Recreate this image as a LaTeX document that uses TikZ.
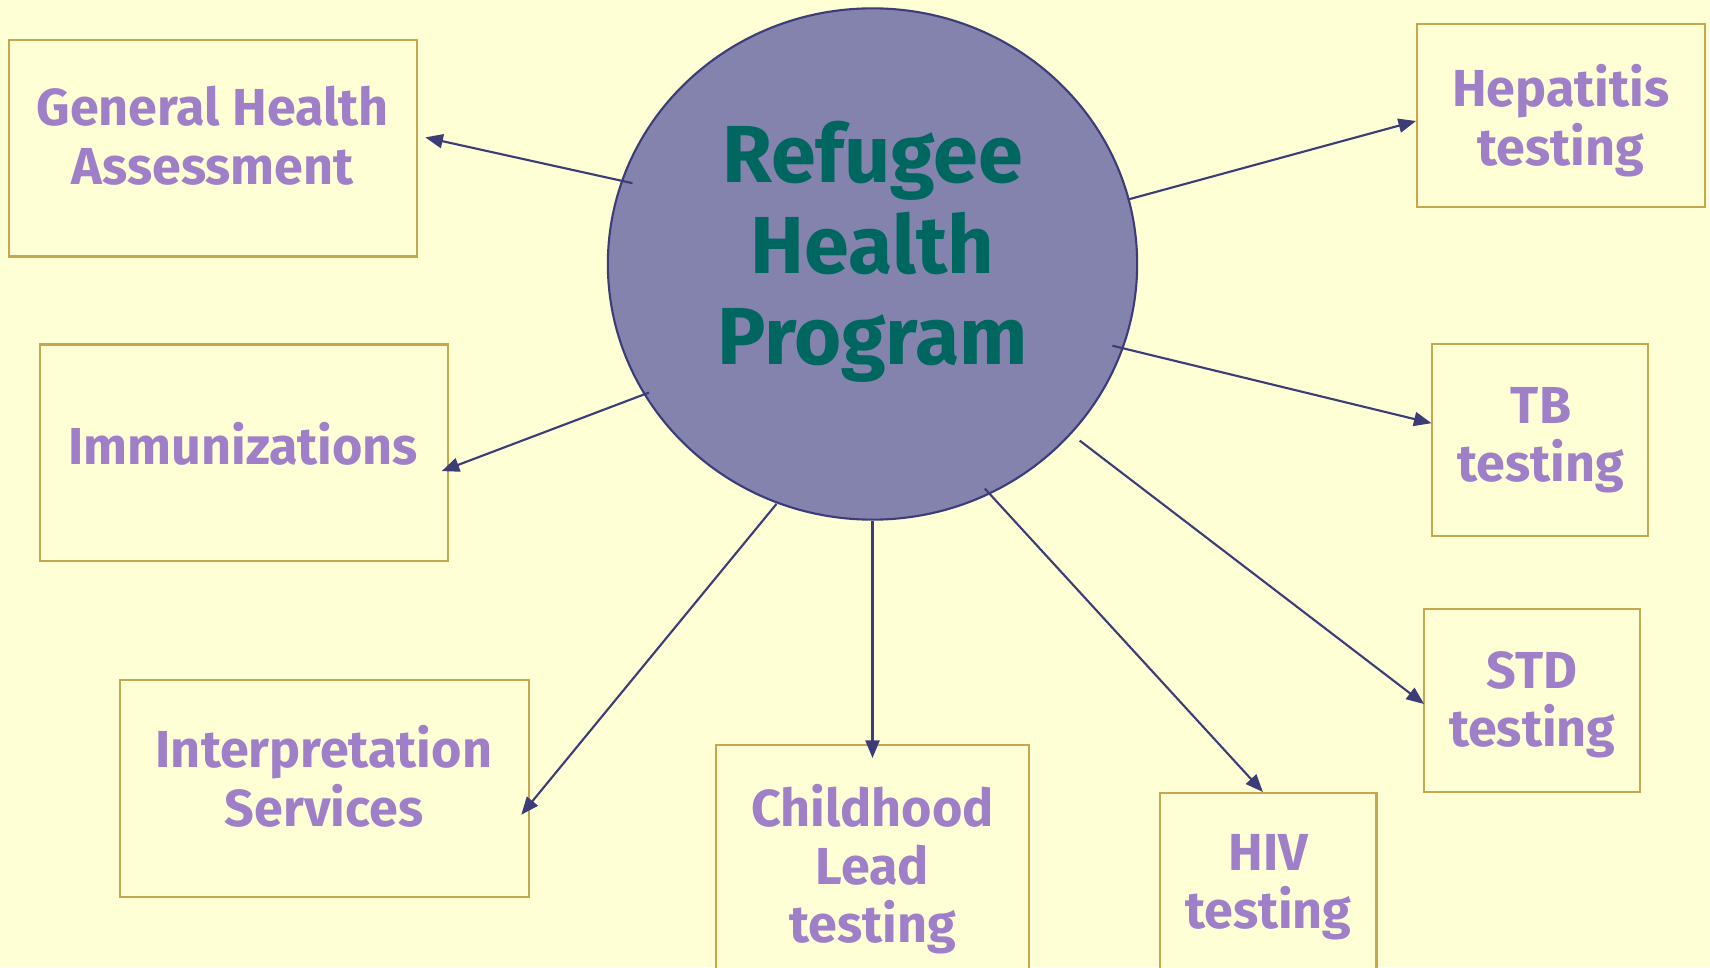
\documentclass[tikz,border=0pt]{standalone}
\usepackage{fontspec}
\setmainfont{Fira Sans}
\usetikzlibrary{arrows.meta,shapes.geometric}
\definecolor{bg}{HTML}{FFFFD5}
\definecolor{boxline}{HTML}{C9A54E}
\definecolor{lbl}{HTML}{9F80C8}
\definecolor{hubfill}{HTML}{8383AD}
\definecolor{hubline}{HTML}{3C3C78}
\definecolor{hubtext}{HTML}{006660}
\begin{document}
\begin{tikzpicture}[x=0.01cm,y=-0.01cm,
  box/.style={draw=boxline,line width=0.6pt,fill=bg,rectangle,inner sep=0pt},
  lab/.style={text=lbl,font=\fontsize{14.8}{16.6}\selectfont\bfseries,align=center,inner sep=0pt},
  conn/.style={draw=hubline,line width=0.6pt,-{Triangle[length=5pt,width=4pt]}}]
\fill[bg] (0,0) rectangle (1710,967);
\useasboundingbox (0,0) rectangle (1710,967);
\clip (0,0) rectangle (1710,967);
% hub
\node[ellipse,draw=hubline,fill=hubfill,line width=0.6pt,inner sep=0pt,
  minimum width=5.29cm,minimum height=5.11cm] (hub) at (872.5,264) {};
\node[text=hubtext,font=\fontsize{23}{25.8}\selectfont\bfseries,align=center] (hubt) at (872.5,252) {Refugee\\Health\\Program};
% boxes
\node[box,minimum width=4.08cm,minimum height=2.16cm] (gha) at (212.7,148.4) {};
\node[box,minimum width=4.08cm,minimum height=2.16cm] (imm) at (244.3,452.6) {};
\node[box,minimum width=4.09cm,minimum height=2.16cm] (int) at (324.5,788.5) {};
\node[box,minimum width=3.12cm,minimum height=3.00cm] (chl) at (872.5,894.9) {};
\node[box,minimum width=2.16cm,minimum height=3.00cm] (hiv) at (1268.4,942.9) {};
\node[box,minimum width=2.16cm,minimum height=1.83cm] (std) at (1532.3,700.2) {};
\node[box,minimum width=2.16cm,minimum height=1.91cm] (tb) at (1540,440) {};
\node[box,minimum width=2.88cm,minimum height=1.83cm] (hep) at (1560.7,115.6) {};
% labels
\node[lab] (ghat) at (212.7,135.8) {General Health\\Assessment};
\node[lab] (immt) at (243.2,443.9) {Immunizations};
\node[lab] (intt) at (323.9,776.5) {Interpretation\\Services};
\node[lab] (chlt) at (872.5,869.2) {Childhood\\Lead\\testing};
\node[lab] (hivt) at (1268.4,887.2) {HIV\\testing};
\node[lab] (stdt) at (1532.3,704.5) {STD\\testing};
\node[lab] (tbt) at (1541,440) {TB\\testing};
\node[lab] (hept) at (1560.7,120.5) {Hepatitis\\testing};
% connector endpoints
\coordinate (s1) at (632.5,183.2); \coordinate (e1) at (425.3,137.4);
\coordinate (s2) at (648.9,392.6); \coordinate (e2) at (441.7,471.1);
\coordinate (s3) at (776.5,503.9); \coordinate (e3) at (521.3,814.7);
\coordinate (s4) at (872.5,521.3); \coordinate (e4) at (872.5,758);
\coordinate (s5) at (984.8,488.6); \coordinate (e5) at (1262.9,792);
\coordinate (s6) at (1079.7,440.6); \coordinate (e6) at (1424,704);
\coordinate (s7) at (1112.4,345.7); \coordinate (e7) at (1431.5,423.2);
\coordinate (s8) at (1127.7,199.6); \coordinate (e8) at (1416,121);
\draw[conn] (s1) -- (e1);
\draw[conn] (s2) -- (e2);
\draw[conn] (s3) -- (e3);
\draw[conn] (s4) -- (e4);
\draw[conn] (s5) -- (e5);
\draw[conn] (s6) -- (e6);
\draw[conn] (s7) -- (e7);
\draw[conn] (s8) -- (e8);
\end{tikzpicture}
\end{document}
